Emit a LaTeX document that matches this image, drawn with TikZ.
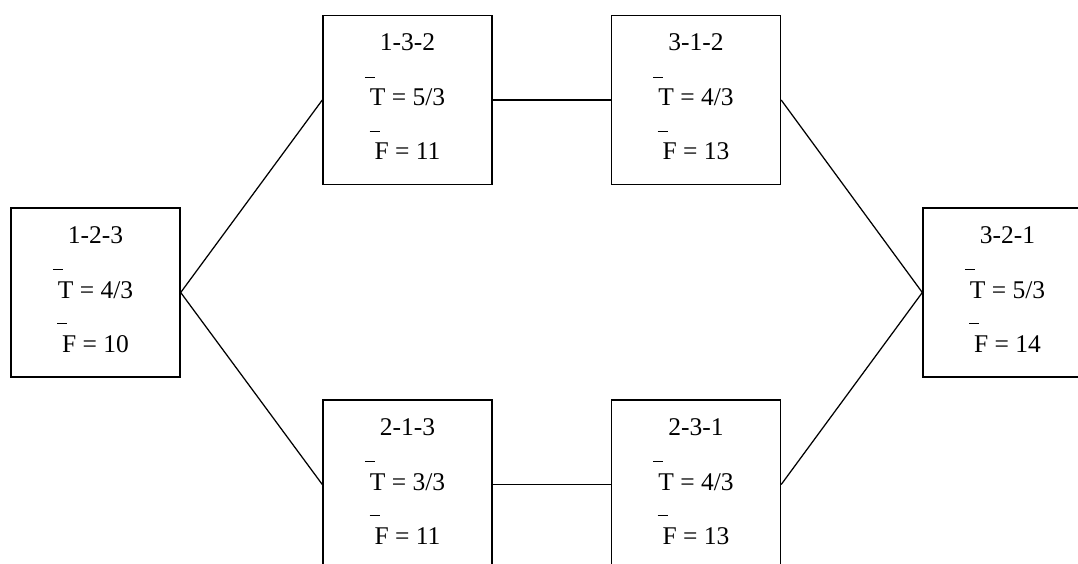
\documentclass[tikz,border=0pt]{standalone}
\usepackage{fontspec}
\setmainfont{Liberation Serif}
\begin{document}
\begin{tikzpicture}[x=1pt,y=-1pt,
  stagebox/.style={draw=black,line width=1.4pt,minimum width=169pt,minimum height=169pt,inner sep=0pt},
  stagetext/.style={anchor=base,inner sep=0pt,font=\fontsize{25.5}{30}\selectfont},
  link/.style={draw=black,line width=1.25pt}]
\useasboundingbox (0,0) rectangle (1078,563);
\clip (0,0) rectangle (1078,563);
% bar drawn over a quantity symbol
\newcommand\avgsym[1]{\makebox[0pt]{\rule[28pt]{10pt}{1pt}}#1}
% one stage: box with its order, mean T and mean F
\newcommand\stagenode[5]{%
  \node[stagebox] (#1) at (#2) {};
  \node[stagetext] (#1-order) at ([yshift=-36pt]#1.north) {#3};
  \node[stagetext] (#1-t) at ([yshift=-91pt]#1.north) {\avgsym{T} = #4};
  \node[stagetext] (#1-f) at ([yshift=-145pt]#1.north) {\avgsym{F} = #5};
}
\stagenode{s123}{95.5,292.5}{1-2-3}{4/3}{10}
\stagenode{s132}{407.5,100}{1-3-2}{5/3}{11}
\stagenode{s312}{696,100}{3-1-2}{4/3}{13}
\stagenode{s213}{407.5,484.5}{2-1-3}{3/3}{11}
\stagenode{s231}{696,484.5}{2-3-1}{4/3}{13}
\stagenode{s321}{1007.5,292.5}{3-2-1}{5/3}{14}
% connections between neighbouring orders
\draw[link] (s123.east) -- (s132.west);
\draw[link] (s123.east) -- (s213.west);
\draw[link] (s132.east) -- (s312.west);
\draw[link] (s213.east) -- (s231.west);
\draw[link] (s312.east) -- (s321.west);
\draw[link] (s231.east) -- (s321.west);
\end{tikzpicture}
\end{document}
